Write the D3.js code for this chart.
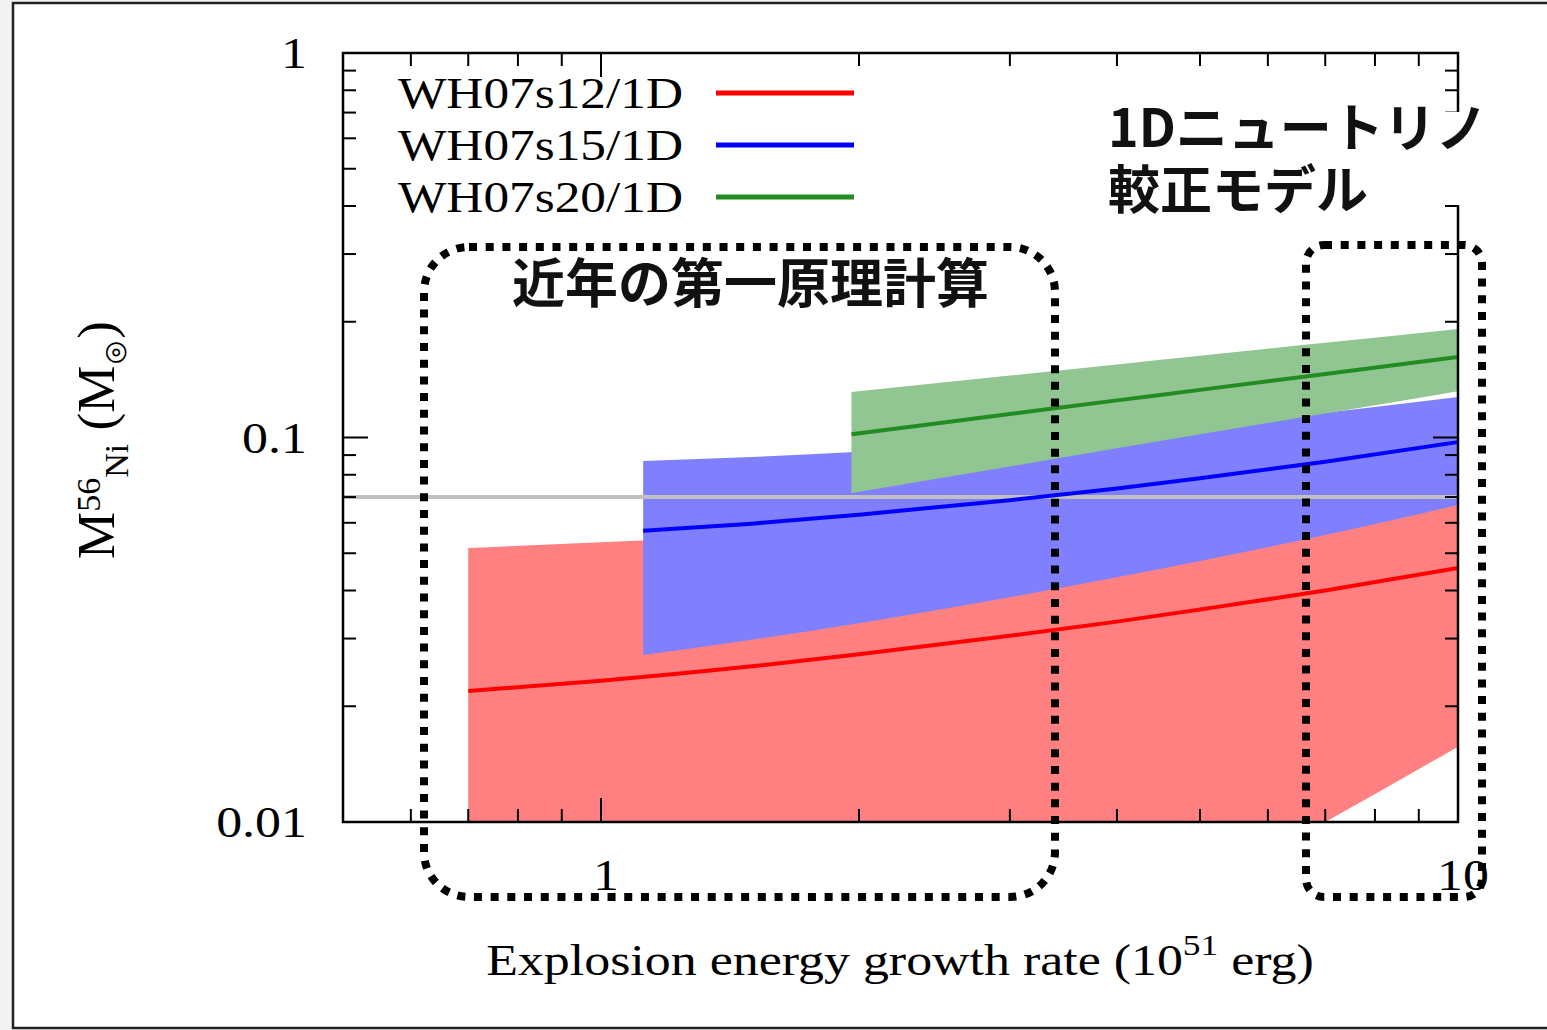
<!DOCTYPE html>
<html lang="ja">
<head>
<meta charset="UTF-8">
<title>56Ni mass vs explosion energy growth rate</title>
<script src="https://cdn.jsdelivr.net/npm/d3@7/dist/d3.min.js"></script>
<style>
    body { margin: 0; background: #f2f2f2; }
    svg { display: block; }
    .serif { font-family: "Liberation Serif", "Times New Roman", serif; fill: #000; }
    .jp { font-family: "Noto Sans CJK JP", sans-serif; font-weight: bold; fill: #111; }
</style>
</head>
<body>
<svg id="main-svg" width="1547" height="1030" xmlns="http://www.w3.org/2000/svg"></svg>
<script>
    'use strict';

    // ---- data ----
    const seriesNames = ['WH07s12/1D', 'WH07s15/1D', 'WH07s20/1D'];

    const xRed    = [0.7, 1, 1.5, 2, 3, 4, 5, 7, 10];
    const redMid  = [0.0219, 0.0233, 0.0254, 0.0273, 0.0305, 0.0332, 0.0357, 0.0400, 0.0458];
    const redHigh = [0.0516, 0.0534, 0.0556, 0.0572, 0.0596, 0.0614, 0.0626, 0.0648, 0.0671];
    const redLow  = [0.0006, 0.0009, 0.0014, 0.002, 0.0035, 0.005, 0.0066, 0.01, 0.0157];

    const xBlue    = [1.12, 1.5, 2, 3, 4, 5, 7, 10];
    const blueMid  = [0.0572, 0.0597, 0.0630, 0.0687, 0.0737, 0.0783, 0.0865, 0.0973];
    const blueHigh = [0.0869, 0.0890, 0.0918, 0.0975, 0.1025, 0.1073, 0.1159, 0.1274];
    const blueLow  = [0.0272, 0.0298, 0.0329, 0.0384, 0.0433, 0.0477, 0.0558, 0.0667];

    const xGreen    = [1.96, 3, 4, 5, 7, 10];
    const greenMid  = [0.102, 0.1151, 0.1249, 0.133, 0.1463, 0.162];
    const greenHigh = [0.1313, 0.1449, 0.1548, 0.1631, 0.1763, 0.1915];
    const greenLow  = [0.0717, 0.0841, 0.0937, 0.1019, 0.1155, 0.132];

    const refLevel = 0.07;   // grey horizontal line

    const xMajor = [1, 10];
    const xMinor = [0.6, 0.7, 0.8, 0.9, 2, 3, 4, 5, 6, 7, 8, 9];
    const yMajor = [0.01, 0.1, 1];
    const yMinor = [0.02, 0.03, 0.04, 0.05, 0.06, 0.07, 0.08, 0.09, 0.2, 0.3, 0.4, 0.5, 0.6, 0.7, 0.8, 0.9];
    const yTickLabels = ['0.01', '0.1', '1'];
    const xTickLabels = ['1', '10'];

    // ---- layout ----
    const L = 343, R = 1458, T = 53, B = 822;
    const SX = 1.18; // serif text looks horizontally stretched in the original
    const svg = d3.select('#main-svg');

    const x = d3.scaleLog().domain([0.5, 10]).range([L, R]);
    const y = d3.scaleLog().domain([0.01, 1]).range([B, T]);

    function serifText(px, py, size, anchor) {
        return svg.append('text').attr('class', 'serif')
            .attr('transform', `translate(${px},${py}) scale(${SX},1)`)
            .attr('font-size', size).attr('text-anchor', anchor);
    }

    // page frame
    svg.append('rect').attr('x', 13).attr('y', 3).attr('width', 1560).attr('height', 1025)
        .attr('fill', '#fff').attr('stroke', '#222').attr('stroke-width', 2.5);

    svg.append('clipPath').attr('id', 'plot-clip')
        .append('rect').attr('x', L).attr('y', T).attr('width', R - L).attr('height', B - T);

    const plot = svg.append('g').attr('clip-path', 'url(#plot-clip)');

    const bands = [
        {xs: xRed, mid: redMid, hi: redHigh, lo: redLow, line: '#ff0000', fill: '#ff8080'},
        {xs: xBlue, mid: blueMid, hi: blueHigh, lo: blueLow, line: '#0000ff', fill: '#8080ff'},
        {xs: xGreen, mid: greenMid, hi: greenHigh, lo: greenLow, line: '#228b22', fill: '#91c591'}
    ];

    const area = d3.area().x(d => x(d[0])).y0(d => y(d[1])).y1(d => y(d[2])).curve(d3.curveMonotoneX);
    const line = d3.line().x(d => x(d[0])).y(d => y(d[1])).curve(d3.curveMonotoneX);

    // bands first (green drawn over blue over red)
    bands.forEach(b => {
        const pts = b.xs.map((v, i) => [v, b.lo[i], b.hi[i]]);
        plot.append('path').attr('d', area(pts)).attr('fill', b.fill);
    });

    // grey reference line
    plot.append('line')
        .attr('x1', L).attr('x2', R).attr('y1', y(refLevel)).attr('y2', y(refLevel))
        .attr('stroke', '#c0c0c0').attr('stroke-width', 4);

    bands.forEach(b => {
        const pts = b.xs.map((v, i) => [v, b.mid[i]]);
        plot.append('path').attr('d', line(pts)).attr('fill', 'none')
            .attr('stroke', b.line).attr('stroke-width', 4);
    });

    // ---- axes (inward ticks on all four sides) ----
    const ax = svg.append('g').attr('stroke', '#000').attr('stroke-width', 2);
    function xTicks(vals, len) {
        vals.forEach(v => {
            ax.append('line').attr('x1', x(v)).attr('x2', x(v)).attr('y1', B).attr('y2', B - len);
            ax.append('line').attr('x1', x(v)).attr('x2', x(v)).attr('y1', T).attr('y2', T + len);
        });
    }
    function yTicks(vals, len) {
        vals.forEach(v => {
            ax.append('line').attr('y1', y(v)).attr('y2', y(v)).attr('x1', L).attr('x2', L + len);
            ax.append('line').attr('y1', y(v)).attr('y2', y(v)).attr('x1', R).attr('x2', R - len);
        });
    }
    xTicks(xMinor, 13);
    xTicks(xMajor, 24);
    yTicks(yMinor, 13);
    yTicks(yMajor, 25);

    svg.append('rect').attr('x', L).attr('y', T).attr('width', R - L).attr('height', B - T)
        .attr('fill', 'none').attr('stroke', '#000').attr('stroke-width', 2.5);

    // tick labels
    yMajor.forEach((v, i) => {
        serifText(307, y(v) + 15, 44, 'end').text(yTickLabels[i]);
    });
    xMajor.forEach((v, i) => {
        serifText(x(v) + 5, 890, 44, 'middle').text(xTickLabels[i]);
    });

    // axis titles
    const xt = serifText(900, 975, 44, 'middle');
    xt.append('tspan').text('Explosion energy growth rate (10');
    xt.append('tspan').attr('dy', -20).attr('font-size', 30).text('51');
    xt.append('tspan').attr('dy', 20).text(' erg)');

    const yt = svg.append('text').attr('class', 'serif')
        .attr('transform', 'translate(114,440) rotate(-90)')
        .attr('text-anchor', 'middle').attr('font-size', 53);
    yt.append('tspan').text('M');
    yt.append('tspan').attr('dy', -14).attr('font-size', 34).text('56');
    yt.append('tspan').attr('dy', 28).attr('font-size', 34).text('Ni');
    yt.append('tspan').attr('dy', -14).text(' (M');
    yt.append('tspan').attr('dy', 12).attr('font-size', 34).text('\u2299');
    yt.append('tspan').attr('dy', -12).text(')');

    // legend
    const legY = [93, 145, 197];
    bands.forEach((b, i) => {
        serifText(683, legY[i] + 15, 43.5, 'end').text(seriesNames[i]);
        svg.append('line').attr('x1', 716).attr('x2', 854).attr('y1', legY[i]).attr('y2', legY[i])
            .attr('stroke', b.line).attr('stroke-width', 5);
    });

    // annotations
    svg.append('rect').attr('x', 1100).attr('y', 112).attr('width', 395).attr('height', 93).attr('fill', '#fff');
    const note = svg.append('text').attr('class', 'jp').attr('font-size', 52);
    note.append('tspan').attr('x', 1108).attr('y', 147).text('1Dニュートリノ');
    note.append('tspan').attr('x', 1108).attr('y', 209).text('較正モデル');
    svg.append('text').attr('class', 'jp').attr('x', 512).attr('y', 303).attr('font-size', 53).text('近年の第一原理計算');

    // dotted rounded boxes
    const boxes = [
        {x0: 424, y0: 247, x1: 1055, y1: 897, r: 45},
        {x0: 1306, y0: 245, x1: 1482, y1: 897, r: 18}
    ];
    boxes.forEach(bx => {
        svg.append('rect').attr('x', bx.x0).attr('y', bx.y0)
            .attr('width', bx.x1 - bx.x0).attr('height', bx.y1 - bx.y0)
            .attr('rx', bx.r).attr('ry', bx.r)
            .attr('fill', 'none').attr('stroke', '#000').attr('stroke-width', 8)
            .attr('stroke-dasharray', '8 8.7');
    });
</script>
</body>
</html>
